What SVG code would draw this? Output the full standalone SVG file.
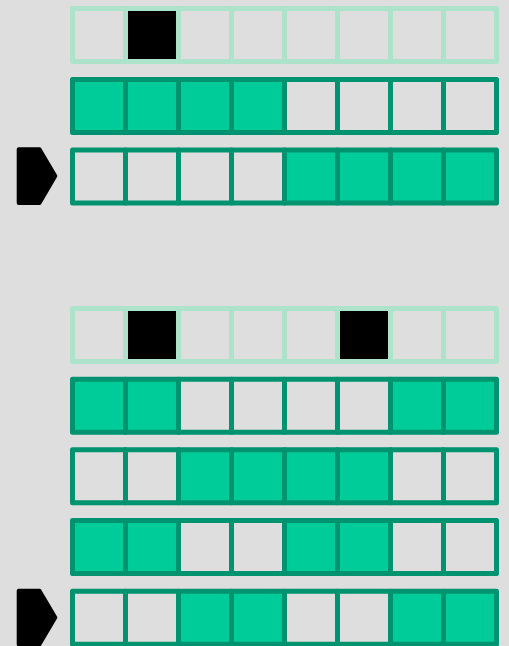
<svg xmlns="http://www.w3.org/2000/svg" width="509" height="646" viewBox="0 0 509 646">
<style>
rect{stroke-width:5;stroke-linejoin:round}
.le{fill:#DEDEDE;stroke:#ACE3CA}
.lb{fill:#000000;stroke:#ACE3CA}
.e{fill:#DEDEDE;stroke:#00936F}
.g{fill:#00CC99;stroke:#00936F}
.arrow{fill:#000000;stroke:#000000;stroke-width:4;stroke-linejoin:round}
</style>
<defs>
<rect id="c" x="0" y="0" width="53" height="53"/>
</defs>
<rect x="0" y="0" width="509" height="646" fill="#DEDEDE" style="stroke:none"/>
<g id="group1">
<g id="row1" transform="translate(72.5,8.5)">
<rect class="le" x="0" width="53" height="53"/><rect class="lb" x="53" width="53" height="53"/><rect class="le" x="106" width="53" height="53"/><rect class="le" x="159" width="53" height="53"/><rect class="le" x="212" width="53" height="53"/><rect class="le" x="265" width="53" height="53"/><rect class="le" x="318" width="53" height="53"/><rect class="le" x="371" width="53" height="53"/>
</g>
<g id="row2" transform="translate(72.5,79.5)">
<rect class="g" x="0" width="53" height="53"/><rect class="g" x="53" width="53" height="53"/><rect class="g" x="106" width="53" height="53"/><rect class="g" x="159" width="53" height="53"/><rect class="e" x="212" width="53" height="53"/><rect class="e" x="265" width="53" height="53"/><rect class="e" x="318" width="53" height="53"/><rect class="e" x="371" width="53" height="53"/>
</g>
<g id="row3" transform="translate(72.5,150)">
<rect class="e" x="0" width="53" height="53"/><rect class="e" x="53" width="53" height="53"/><rect class="e" x="106" width="53" height="53"/><rect class="e" x="159" width="53" height="53"/><rect class="g" x="212" width="53" height="53"/><rect class="g" x="265" width="53" height="53"/><rect class="g" x="318" width="53" height="53"/><rect class="g" x="371" width="53" height="53"/>
</g>
<g id="pointer1" transform="translate(0,147.3)">
<polygon class="arrow" points="18.7,2 39.5,2 55.3,28.8 39.5,55.6 18.7,55.6"/>
</g>
</g>
<g id="group2">
<g id="rowA" transform="translate(72.5,308.5)">
<rect class="le" x="0" width="53" height="53"/><rect class="lb" x="53" width="53" height="53"/><rect class="le" x="106" width="53" height="53"/><rect class="le" x="159" width="53" height="53"/><rect class="le" x="212" width="53" height="53"/><rect class="lb" x="265" width="53" height="53"/><rect class="le" x="318" width="53" height="53"/><rect class="le" x="371" width="53" height="53"/>
</g>
<g id="rowB" transform="translate(72.5,379.3)">
<rect class="g" x="0" width="53" height="53"/><rect class="g" x="53" width="53" height="53"/><rect class="e" x="106" width="53" height="53"/><rect class="e" x="159" width="53" height="53"/><rect class="e" x="212" width="53" height="53"/><rect class="e" x="265" width="53" height="53"/><rect class="g" x="318" width="53" height="53"/><rect class="g" x="371" width="53" height="53"/>
</g>
<g id="rowC" transform="translate(72.5,449.8)">
<rect class="e" x="0" width="53" height="53"/><rect class="e" x="53" width="53" height="53"/><rect class="g" x="106" width="53" height="53"/><rect class="g" x="159" width="53" height="53"/><rect class="g" x="212" width="53" height="53"/><rect class="g" x="265" width="53" height="53"/><rect class="e" x="318" width="53" height="53"/><rect class="e" x="371" width="53" height="53"/>
</g>
<g id="rowD" transform="translate(72.5,520.5)">
<rect class="g" x="0" width="53" height="53"/><rect class="g" x="53" width="53" height="53"/><rect class="e" x="106" width="53" height="53"/><rect class="e" x="159" width="53" height="53"/><rect class="g" x="212" width="53" height="53"/><rect class="g" x="265" width="53" height="53"/><rect class="e" x="318" width="53" height="53"/><rect class="e" x="371" width="53" height="53"/>
</g>
<g id="rowE" transform="translate(72.5,591.2)">
<rect class="e" x="0" width="53" height="53"/><rect class="e" x="53" width="53" height="53"/><rect class="g" x="106" width="53" height="53"/><rect class="g" x="159" width="53" height="53"/><rect class="e" x="212" width="53" height="53"/><rect class="e" x="265" width="53" height="53"/><rect class="g" x="318" width="53" height="53"/><rect class="g" x="371" width="53" height="53"/>
</g>
<g id="pointer2" transform="translate(0,588.7)">
<polygon class="arrow" points="18.7,2 39.5,2 55.3,28.8 39.5,55.6 18.7,55.6"/>
</g>
</g>
<g id="connectors"/>
</svg>
